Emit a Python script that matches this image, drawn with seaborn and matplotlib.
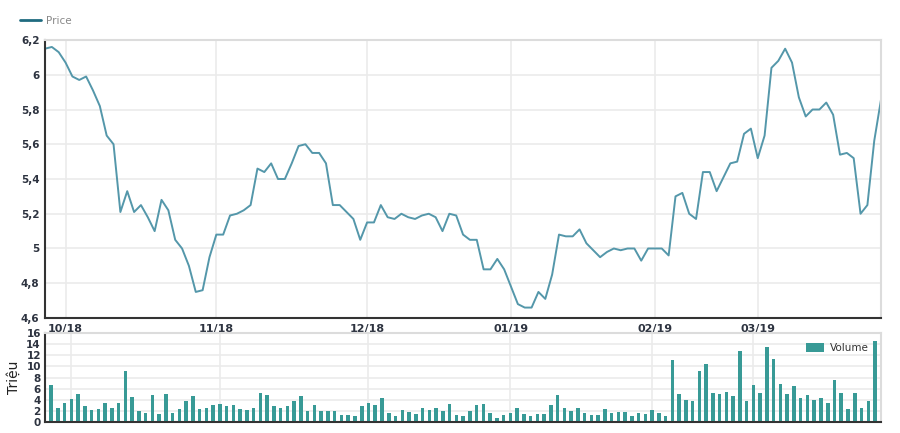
import numpy as np
import pandas as pd
import matplotlib
matplotlib.use('Agg')
import matplotlib.pyplot as plt
import matplotlib.ticker as mticker
import seaborn as sns

# ==========================================
# DATA (one value per trading day)
# ==========================================
price = [6.15, 6.16, 6.13, 6.07, 5.99, 5.97, 5.99, 5.91, 5.82, 5.65,
         5.60, 5.21, 5.33, 5.21, 5.25, 5.18, 5.10, 5.28, 5.22, 5.05,
         5.00, 4.90, 4.75, 4.76, 4.95, 5.08, 5.08, 5.19, 5.20, 5.22,
         5.25, 5.46, 5.44, 5.49, 5.40, 5.40, 5.49, 5.59, 5.60, 5.55,
         5.55, 5.49, 5.25, 5.25, 5.21, 5.17, 5.05, 5.15, 5.15, 5.25,
         5.18, 5.17, 5.20, 5.18, 5.17, 5.19, 5.20, 5.18, 5.10, 5.20,
         5.19, 5.08, 5.05, 5.05, 4.88, 4.88, 4.94, 4.88, 4.78, 4.68,
         4.66, 4.66, 4.75, 4.71, 4.85, 5.08, 5.07, 5.07, 5.11, 5.03,
         4.99, 4.95, 4.98, 5.00, 4.99, 5.00, 5.00, 4.93, 5.00, 5.00,
         5.00, 4.96, 5.30, 5.32, 5.20, 5.17, 5.44, 5.44, 5.33, 5.41,
         5.49, 5.50, 5.66, 5.69, 5.52, 5.65, 6.04, 6.08, 6.15, 6.07,
         5.87, 5.76, 5.80, 5.80, 5.84, 5.77, 5.54, 5.55, 5.52, 5.20,
         5.25, 5.62, 5.86]

volume = [6.7, 2.6, 3.4, 4.1, 5.1, 2.8, 2.2, 2.4, 3.4, 2.6,
          3.5, 9.2, 4.5, 1.9, 1.6, 4.9, 1.4, 5.1, 1.6, 2.4,
          3.7, 4.7, 2.4, 2.6, 3.1, 3.2, 2.8, 3.1, 2.4, 2.2,
          2.6, 5.3, 4.9, 2.8, 2.6, 2.8, 3.7, 4.7, 2.0, 3.1,
          1.9, 1.9, 1.9, 1.2, 1.2, 1.0, 2.8, 3.5, 3.1, 4.3,
          1.6, 1.0, 2.2, 1.8, 1.4, 2.6, 2.2, 2.6, 2.0, 3.2,
          1.2, 1.0, 2.0, 3.1, 3.2, 1.6, 0.8, 1.2, 1.6, 2.6,
          1.4, 1.0, 1.4, 1.4, 3.1, 4.9, 2.6, 2.0, 2.6, 1.6,
          1.3, 1.3, 2.3, 1.6, 1.8, 1.8, 1.0, 1.6, 1.4, 2.2,
          1.6, 1.0, 11.2, 5.0, 4.0, 3.8, 9.2, 10.4, 5.3, 5.0,
          5.4, 4.6, 12.8, 3.7, 6.7, 5.3, 13.4, 11.4, 6.9, 5.0,
          6.5, 4.3, 4.8, 4.0, 4.3, 3.4, 7.5, 5.3, 2.4, 5.3,
          2.6, 3.8, 14.6]

# first trading day of each month (index into the series above)
month_idx = [3, 25, 47, 68, 89, 104]
month_labels = ['10/18', '11/18', '12/18', '01/19', '02/19', '03/19']

price_ticks = [4.6, 4.8, 5.0, 5.2, 5.4, 5.6, 5.8, 6.0, 6.2]
volume_ticks = [0, 2, 4, 6, 8, 10, 12, 14, 16]

df = pd.DataFrame({'day': np.arange(len(price)), 'Price': price, 'Volume': volume})

# ==========================================
# STYLE
# ==========================================
sns.set_style('white')
plt.rcParams['font.family'] = ['DejaVu Sans']

LINE_COLOR = '#5497aa'
BAR_COLOR = '#389a96'
GRID_COLOR = '#ebebeb'
FRAME_COLOR = '#dcdcdc'
AXIS_COLOR = '#333333'
TICK_COLOR = '#2d3340'

fig = plt.figure(figsize=(9, 4.33), dpi=100)
ax1 = fig.add_axes([0.05, 0.2656, 0.929, 0.642])
ax2 = fig.add_axes([0.05, 0.0254, 0.929, 0.2055])

comma_fmt = mticker.FuncFormatter(lambda v, p: ('%g' % round(v, 2)).replace('.', ','))

# ==========================================
# PRICE PANEL
# ==========================================
sns.lineplot(data=df, x='day', y='Price', ax=ax1, color=LINE_COLOR, lw=1.4, label='Price')
ax1.set_xlim(0, len(price) - 1)
ax1.set_ylim(4.6, 6.2)
ax1.set_yticks(price_ticks)
ax1.yaxis.set_major_formatter(comma_fmt)
ax1.set_xticks(month_idx)
ax1.set_xticklabels(month_labels)
ax1.set_xlabel('')
ax1.set_ylabel('')
ax1.grid(True, color=GRID_COLOR, lw=1.2)
ax1.set_axisbelow(True)
ax1.tick_params(axis='y', length=0, pad=4, labelsize=7.5, labelcolor=TICK_COLOR)
ax1.tick_params(axis='x', length=4, width=1, color=AXIS_COLOR, pad=0.5,
                labelsize=8, labelcolor=TICK_COLOR, direction='out')
for lbl in ax1.get_yticklabels() + ax1.get_xticklabels():
    lbl.set_fontweight('bold')
for side in ['top', 'right']:
    ax1.spines[side].set_color(FRAME_COLOR)
    ax1.spines[side].set_linewidth(1.5)
for side in ['left', 'bottom']:
    ax1.spines[side].set_color(AXIS_COLOR)
    ax1.spines[side].set_linewidth(1.5)

leg1 = ax1.legend(loc='lower left', bbox_to_anchor=(-0.035, 1.035), frameon=False,
                  fontsize=7.5, handlelength=2.0, handletextpad=0.5, borderaxespad=0)
leg1.get_lines()[0].set_color('#1f6b80')
leg1.get_lines()[0].set_linewidth(2)
for t in leg1.get_texts():
    t.set_color('#888888')

# ==========================================
# VOLUME PANEL
# ==========================================
sns.barplot(data=df, x='day', y='Volume', ax=ax2, color=BAR_COLOR,
            width=0.52, saturation=1, linewidth=0, label='Volume')
ax2.set_xlim(-0.9, len(volume) - 0.1)
ax2.set_ylim(0, 16)
ax2.set_yticks(volume_ticks)
ax2.set_xticks(month_idx)
ax2.set_xticklabels([])
ax2.set_xlabel('')
ax2.set_ylabel('Triệu', fontsize=10, color='#222222', labelpad=4)
ax2.grid(True, color=GRID_COLOR, lw=1.2)
ax2.set_axisbelow(True)
ax2.tick_params(axis='y', length=0, pad=3, labelsize=7.5, labelcolor=TICK_COLOR)
ax2.tick_params(axis='x', length=0)
for lbl in ax2.get_yticklabels():
    lbl.set_fontweight('bold')
for side in ['top', 'right']:
    ax2.spines[side].set_color(FRAME_COLOR)
    ax2.spines[side].set_linewidth(1.5)
for side in ['left', 'bottom']:
    ax2.spines[side].set_color(AXIS_COLOR)
    ax2.spines[side].set_linewidth(1.5)

leg2 = ax2.legend(loc='upper right', bbox_to_anchor=(0.99, 0.93), frameon=False,
                  fontsize=7.5, handlelength=1.8, handleheight=0.9,
                  handletextpad=0.5, borderaxespad=0)
for t in leg2.get_texts():
    t.set_color('#333333')

fig.savefig('out.png', dpi=100)
